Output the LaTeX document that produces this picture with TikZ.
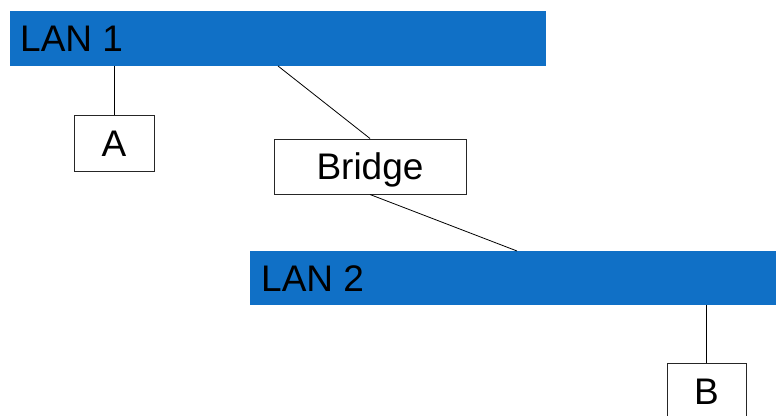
\documentclass[tikz,border=0pt]{standalone}
\usepackage{fontspec}
\setmainfont{Liberation Sans}
\definecolor{lanblue}{RGB}{16,112,198}
\begin{document}
\begin{tikzpicture}[x=1pt,y=-1pt,
  font=\fontsize{37}{41}\selectfont,
  lan/.style={fill=lanblue, draw=none, inner sep=0pt, anchor=north west},
  lanlabel/.style={anchor=west, inner sep=0pt, text height=26.5pt, text depth=0pt},
  host/.style={draw=black!85, line width=1pt, fill=white, inner sep=0pt,
               text height=26.5pt, text depth=0pt},
  wire/.style={draw=black, line width=0.8pt}]
\useasboundingbox[fill=white] (0,0) rectangle (776,415);
\clip (0,0) rectangle (776,415);

% LAN segments
\node[lan, minimum width=536pt, minimum height=55pt] (lan1) at (10,11) {};
\node[lanlabel] (lan1label) at (20,38.5) {LAN 1};
\node[lan, minimum width=526pt, minimum height=54pt] (lan2) at (250,251) {};
\node[lanlabel] (lan2label) at (261,278) {LAN 2};

% hosts and bridge
\node[host, minimum width=80pt, minimum height=56pt] (a) at (114,143) {A};
\node[host, minimum width=192pt, minimum height=55pt] (bridge) at (370,166.5) {Bridge};
\node[host, minimum width=79pt, minimum height=56pt] (b) at (706.5,391) {B};

% taps on the LAN segments
\coordinate (tap1) at (278,66);
\coordinate (tap2) at (517,251);

% cabling
\draw[wire] (a.north) -- (a.north |- lan1.south);
\draw[wire] (tap1) -- (bridge.north);
\draw[wire] (bridge.south) -- (tap2);
\draw[wire] (b.north) -- (b.north |- lan2.south);
\end{tikzpicture}
\end{document}
